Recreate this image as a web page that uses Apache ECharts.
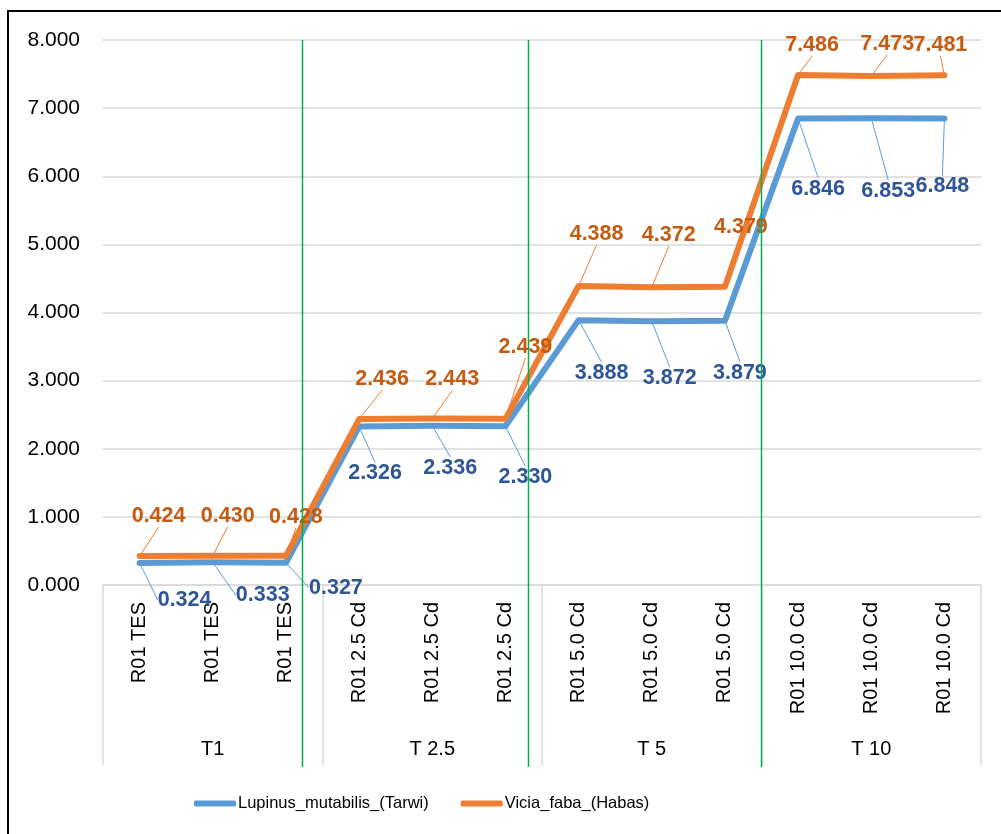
<!DOCTYPE html>
<html>
<head>
<meta charset="utf-8">
<script src="https://cdn.jsdelivr.net/npm/echarts@6/dist/echarts.min.js"></script>
<style>
  html, body { margin: 0; padding: 0; background: #fff; }
  #chart { width: 1001px; height: 834px; }
</style>
</head>
<body>
<div id="chart"></div>
<script>
// categorias (nivel 1 y nivel 2)
var categories = ['R01 TES', 'R01 TES', 'R01 TES',
  'R01 2.5 Cd', 'R01 2.5 Cd', 'R01 2.5 Cd',
  'R01 5.0 Cd', 'R01 5.0 Cd', 'R01 5.0 Cd',
  'R01 10.0 Cd', 'R01 10.0 Cd', 'R01 10.0 Cd'];
var groups = ['T1', 'T 2.5', 'T 5', 'T 10'];

var lupinus = [0.324, 0.333, 0.327, 2.326, 2.336, 2.330, 3.888, 3.872, 3.879, 6.846, 6.853, 6.848];
var vicia = [0.424, 0.430, 0.428, 2.436, 2.443, 2.439, 4.388, 4.372, 4.379, 7.486, 7.473, 7.481];

var yTicks = { min: 0, max: 8, interval: 1 };

// desplazamiento de etiquetas (px) respecto al punto
var lupinusLabelShift = [[45, 37], [50, 33], [50, 25], [16, 47], [18, 42], [20, 51],
  [23, 53], [18, 57], [15, 52], [20, 70], [17, 73], [-2, 68]];
var viciaLabelShift = [[19, -40], [15, -40], [10, -39], [23, -40], [20, -39], [20, -72],
  [18, -52], [17, -52], [16, -60], [14, -30], [16, -32], [-4, -30]];

// lineas verdes (en unidades de categoria desde el borde izquierdo)
var dividerAt = [2.72, 5.81, 8.99];

var chart = echarts.init(document.getElementById('chart'));
var font = 'Liberation Sans';

function makeSeries(name, data, color, labelColor, shift) {
  return {
    name: name,
    type: 'line',
    data: data,
    symbol: 'circle',
    symbolSize: 1,
    itemStyle: { color: color },
    lineStyle: { color: color, width: 6, cap: 'round', join: 'round' },
    label: {
      show: true,
      position: 'inside',
      formatter: function (p) { return p.value.toFixed(3); },
      color: labelColor,
      fontFamily: font,
      fontWeight: 'bold',
      fontSize: 21.5
    },
    labelLine: { show: true, lineStyle: { color: color, width: 1 } },
    labelLayout: function (p) {
      var s = shift[p.dataIndex];
      return { dx: s[0], dy: s[1] };
    },
    emphasis: { disabled: true },
    animation: false
  };
}

chart.setOption({
  backgroundColor: '#fff',
  animation: false,
  grid: { left: 103, top: 40, width: 878, height: 545 },
  legend: {
    left: 189,
    top: 790,
    itemWidth: 42,
    itemHeight: 6,
    itemGap: 32,
    icon: 'roundRect',
    textStyle: { fontFamily: font, fontSize: 16.5, color: '#000', padding: [0, 0, 0, -3] },
    data: ['Lupinus_mutabilis_(Tarwi)', 'Vicia_faba_(Habas)']
  },
  xAxis: [{
    type: 'category',
    data: categories,
    position: 'bottom',
    axisLine: { show: true, lineStyle: { color: '#d9d9d9', width: 1.5 } },
    axisTick: { show: false },
    axisLabel: {
      interval: 0,
      rotate: 90,
      margin: 17,
      color: '#000',
      fontFamily: font,
      fontSize: 20
    }
  }, {
    type: 'category',
    data: groups,
    position: 'bottom',
    axisLine: { show: false },
    axisTick: { show: true, length: 180, interval: 0, lineStyle: { color: '#d9d9d9', width: 1.5 } },
    axisLabel: {
      interval: 0,
      margin: 154,
      color: '#000',
      fontFamily: font,
      fontSize: 20
    }
  }],
  yAxis: {
    type: 'value',
    min: yTicks.min,
    max: yTicks.max,
    interval: yTicks.interval,
    axisLine: { show: false },
    axisTick: { show: false },
    splitLine: { lineStyle: { color: '#d9d9d9', width: 1.5 } },
    axisLabel: {
      margin: 23,
      color: '#000',
      fontFamily: font,
      fontSize: 21,
      formatter: function (v) { return v.toFixed(3); }
    }
  },
  series: [
    makeSeries('Lupinus_mutabilis_(Tarwi)', lupinus, '#5B9BD5', '#2F5597', lupinusLabelShift),
    makeSeries('Vicia_faba_(Habas)', vicia, '#ED7D31', '#C55A11', viciaLabelShift)
  ]
});

// marco y lineas verdes
var p0 = chart.convertToPixel({ xAxisIndex: 0 }, 0);
var p1 = chart.convertToPixel({ xAxisIndex: 0 }, 1);
var step = p1 - p0;
var left = p0 - step / 2;
var yTop = chart.convertToPixel({ yAxisIndex: 0 }, yTicks.max);
var elements = dividerAt.map(function (u) {
  var x = Math.round(left + step * u) + 0.5;
  return {
    type: 'line',
    shape: { x1: x, y1: yTop, x2: x, y2: 767 },
    style: { stroke: '#00B050', lineWidth: 1.5 },
    z: 10
  };
});
elements.push({
  type: 'rect',
  shape: { x: 8, y: 11, width: 1010, height: 900 },
  style: { fill: 'none', stroke: '#000', lineWidth: 2 },
  z: 10
});
chart.setOption({ graphic: elements });

window.onresize = chart.resize;
</script>
</body>
</html>
